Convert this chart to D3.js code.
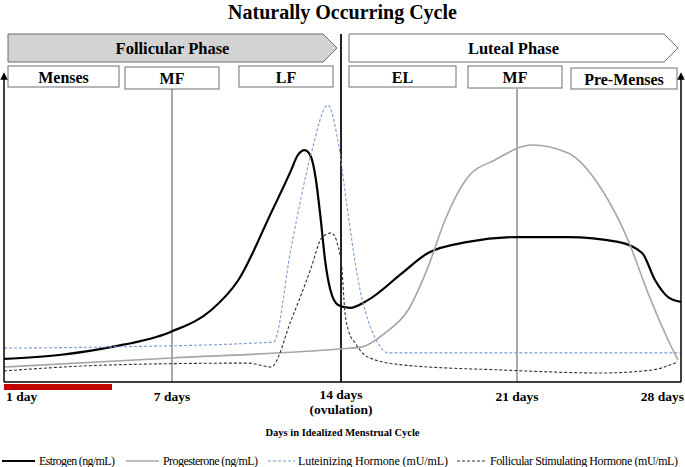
<!DOCTYPE html>
<html>
<head>
<meta charset="utf-8">
<script src="https://cdn.jsdelivr.net/npm/d3@7"></script>
<style>
  body { margin: 0; background: #fff; }
  #chart { width: 685px; height: 467px; }
  text { font-family: "Liberation Serif", "Times New Roman", serif; fill: #000; }
</style>
</head>
<body>
<div id="chart"></div>
<script>
// data (arbitrary hormone level units, 0-100)

const tickDays = [0, 7, 14, 21, 28];
const tickLabels = ["1 day", "7 days", "14 days", "21 days", "28 days"];

const estrogenDays = [0, 2.3, 4.5, 6.94, 8.63, 9.75, 11.1, 11.94, 12.2, 12.5, 12.76, 12.95, 13.15, 13.35, 13.55, 13.88, 14.36, 15.07, 16.43, 17.46, 19.05, 21, 23.18, 25.31, 26.34, 26.89, 27.45, 28];
const estrogenVals = [7.7, 9, 11.7, 16.7, 24, 34, 56.3, 70.7, 75.5, 77.3, 75, 68, 55, 40, 31, 25.7, 24.7, 27.3, 36.3, 43, 46.7, 48.3, 48.3, 46.7, 43, 34, 28.3, 26.7];

const progDays = [0, 7, 13.9, 14.84, 15.75, 16.67, 17.46, 18.14, 19.05, 20.12, 21.64, 23.18, 24.63, 25.74, 26.59, 27.45, 27.87];
const progVals = [5, 8, 11, 11.7, 16.3, 24, 38.3, 54, 68.3, 74, 79, 76.3, 64, 47.3, 29.7, 14, 7.3];

const lhDays = [0, 4.5, 11.2, 11.94, 12.76, 13.46, 13.88, 14.28, 14.68, 15.07, 15.47, 15.87, 28];
const lhVals = [11.3, 11.7, 13.3, 45, 76, 92.3, 80, 56, 34, 20.7, 13, 9.7, 9.7];

const fshDays = [0, 4.5, 10.16, 11.1, 11.94, 12.76, 13.2, 13.6, 14.0, 14.16, 14.3, 14.56, 15.07, 16.43, 20.4, 24.63, 26.76, 27.87];
const fshVals = [3.7, 5.7, 6.3, 5, 20.7, 38, 48, 49.7, 40.7, 23, 17, 13, 8.3, 5.7, 4, 3, 4, 6.7];

const mensesDays = [0, 4.5];
const markerDays = [7, 21];

const phaseLabels = ["Follicular Phase", "Luteal Phase"];
const subLabels = ["Menses", "MF", "LF", "EL", "MF", "Pre-Menses"];
const legendLabels = ["Estrogen (ng/mL)", "Progesterone (ng/mL)", "Luteinizing Hormone (mU/mL)", "Follicular Stimulating Hormone (mU/mL)"];

// 1. canvas

const width = 685, height = 467;
const svg = d3.select("#chart").append("svg")
    .attr("width", width)
    .attr("height", height);

const margin = {top: 82, left: 4, right: 4, bottom: 85};

// the week marks in the picture are not evenly spaced, so a piecewise scale
const x = d3.scaleLinear()
    .domain(tickDays)
    .range([margin.left, 172, 341, 517, width - margin.right]);
const y = d3.scaleLinear().domain([0, 100]).range([height - margin.bottom, margin.top]);
const base = y(0);

svg.append("defs").append("marker")
    .attr("id", "arrow")
    .attr("viewBox", "0 0 10 10")
    .attr("refX", 5).attr("refY", 5)
    .attr("markerWidth", 5).attr("markerHeight", 6)
    .attr("orient", "auto")
  .append("path")
    .attr("d", "M0,0 L10,5 L0,10 z")
    .attr("fill", "#000");

// title
svg.append("text")
    .attr("x", width / 2).attr("y", 19)
    .attr("text-anchor", "middle")
    .style("font-size", "20px").style("font-weight", "bold")
    .text("Naturally Occurring Cycle");

// 2. phase arrows
const phaseBoxes = [
    {x0: 8, x1: 323, tip: 337, fill: "#d3d3d3"},
    {x0: 349, x1: 664, tip: 678, fill: "#fff"}
];
phaseBoxes.forEach(function(b, i) {
    svg.append("path")
        .attr("d", `M${b.x0},34 L${b.x1},34 L${b.tip},48 L${b.x1},62 L${b.x0},62 Z`)
        .attr("fill", b.fill)
        .attr("stroke", "#6e6e6e")
        .attr("stroke-width", 1);
    svg.append("text")
        .attr("x", (b.x0 + b.tip) / 2).attr("y", 54)
        .attr("text-anchor", "middle")
        .style("font-size", "16.5px").style("font-weight", "bold")
        .text(phaseLabels[i]);
});

const subBoxes = [
    {x0: 8, x1: 119, y0: 66, y1: 87},
    {x0: 125, x1: 219, y0: 67, y1: 89},
    {x0: 239, x1: 333, y0: 66, y1: 87},
    {x0: 349, x1: 456, y0: 66, y1: 87},
    {x0: 468, x1: 562, y0: 66, y1: 88},
    {x0: 571, x1: 677, y0: 68, y1: 89}
];
subBoxes.forEach(function(b, i) {
    svg.append("rect")
        .attr("x", b.x0).attr("y", b.y0)
        .attr("width", b.x1 - b.x0).attr("height", b.y1 - b.y0)
        .attr("fill", "#fff")
        .attr("stroke", "#6e6e6e");
    svg.append("text")
        .attr("x", (b.x0 + b.x1) / 2).attr("y", (b.y0 + b.y1) / 2 + 6)
        .attr("text-anchor", "middle")
        .style("font-size", "16px").style("font-weight", "bold")
        .text(subLabels[i]);
});

// 3. guide lines
svg.selectAll(".marker")
    .data(markerDays)
    .enter()
    .append("line")
        .attr("x1", d => x(d)).attr("x2", d => x(d))
        .attr("y1", 89).attr("y2", base)
        .attr("stroke", "#555").attr("stroke-width", 1);

svg.append("line")
    .attr("x1", x(14)).attr("x2", x(14))
    .attr("y1", 34).attr("y2", base)
    .attr("stroke", "#222").attr("stroke-width", 2);

// menses bar
svg.append("rect")
    .attr("x", x(mensesDays[0])).attr("y", base + 2)
    .attr("width", x(mensesDays[1]) - x(mensesDays[0]))
    .attr("height", 6)
    .attr("fill", "#c00000");

// 4. series
const series = [
    {days: estrogenDays, vals: estrogenVals, color: "#000", w: 2.2, dash: null},
    {days: progDays, vals: progVals, color: "#a6a6a6", w: 1.6, dash: null},
    {days: lhDays, vals: lhVals, color: "#7d9bd1", w: 1.1, dash: "3,2"},
    {days: fshDays, vals: fshVals, color: "#333", w: 1.1, dash: "3,2"}
];

const line = d3.line()
    .x(d => x(d[0]))
    .y(d => y(d[1]))
    .curve(d3.curveMonotoneX);

series.forEach(function(s) {
    svg.append("path")
        .datum(d3.zip(s.days, s.vals))
        .attr("d", line)
        .attr("fill", "none")
        .attr("stroke", s.color)
        .attr("stroke-width", s.w)
        .attr("stroke-dasharray", s.dash);
});

// 5. axes
svg.append("line")
    .attr("x1", x(0)).attr("x2", x(28))
    .attr("y1", base).attr("y2", base)
    .attr("stroke", "#000").attr("stroke-width", 1.5);

[0, 28].forEach(function(d) {
    svg.append("line")
        .attr("x1", x(d)).attr("x2", x(d))
        .attr("y1", base).attr("y2", 76)
        .attr("stroke", "#000").attr("stroke-width", 1.5)
        .attr("marker-end", "url(#arrow)");
});

svg.selectAll(".tick-label")
    .data(tickDays)
    .enter()
    .append("text")
        .attr("x", (d, i) => i === 0 ? x(d) + 2 : (i === 4 ? x(d) + 3 : x(d)))
        .attr("y", (d, i) => i === 2 ? 399 : 401)
        .attr("text-anchor", (d, i) => i === 0 ? "start" : (i === 4 ? "end" : "middle"))
        .style("font-size", "13.5px").style("font-weight", "bold")
        .text((d, i) => tickLabels[i]);

svg.append("text")
    .attr("x", x(14)).attr("y", 414)
    .attr("text-anchor", "middle")
    .style("font-size", "13.5px").style("font-weight", "bold")
    .text("(ovulation)");

svg.append("text")
    .attr("x", width / 2).attr("y", 436)
    .attr("text-anchor", "middle")
    .style("font-size", "10.5px").style("font-weight", "bold")
    .text("Days in Idealized Menstrual Cycle");

// 6. legend
const legendPos = [
    {l0: 2, l1: 35, t0: 39, t1: 115},
    {l0: 126, l1: 159, t0: 163, t1: 258},
    {l0: 268, l1: 295, t0: 298, t1: 448},
    {l0: 457, l1: 487, t0: 490, t1: 678}
];
legendPos.forEach(function(p, i) {
    const s = series[i];
    svg.append("line")
        .attr("x1", p.l0).attr("x2", p.l1)
        .attr("y1", 461).attr("y2", 461)
        .attr("stroke", s.color)
        .attr("stroke-width", s.w)
        .attr("stroke-dasharray", s.dash);
    svg.append("text")
        .attr("x", p.t0).attr("y", 465)
        .attr("textLength", p.t1 - p.t0)
        .attr("lengthAdjust", "spacing")
        .style("font-size", "12px")
        .text(legendLabels[i]);
});
</script>
</body>
</html>
